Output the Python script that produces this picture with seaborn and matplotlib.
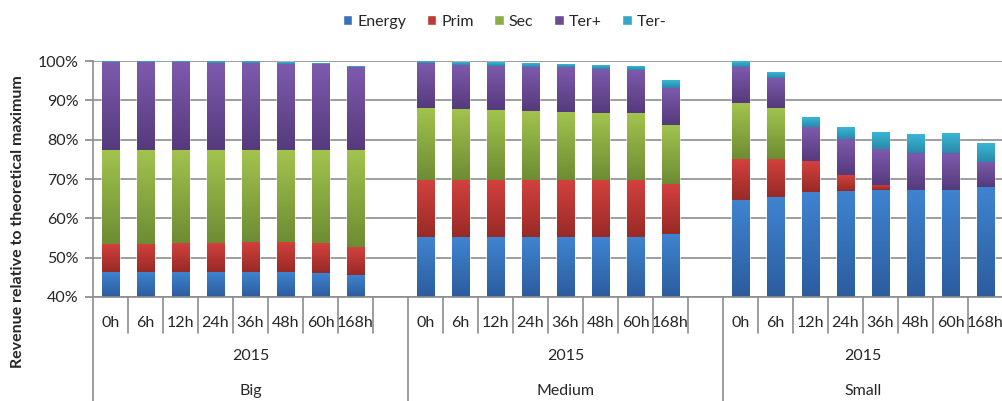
import numpy as np
import pandas as pd
import matplotlib.pyplot as plt
import matplotlib.transforms as mtransforms
from matplotlib.colors import to_rgb
from matplotlib.patches import Patch
import seaborn as sns

# Chart data (percent of theoretical maximum, segment heights)
groups = ['Big', 'Medium', 'Small']
hours = ['0h', '6h', '12h', '24h', '36h', '48h', '60h', '168h']
series = ['Energy', 'Prim', 'Sec', 'Ter+', 'Ter-']
colors = ['#3A72BA', '#BE3A36', '#8AAE45', '#6A4C92', '#34A6C8']
# gradient ends (top light, bottom dark) like the Excel fill
light = ['#3F84D0', '#D4413D', '#A2C44E', '#7E5AAE', '#3AB6D6']
dark = ['#2C5C9E', '#982A27', '#6E8C33', '#553A7C', '#2A8AAA']

energy = [46.4, 46.4, 46.4, 46.4, 46.4, 46.4, 46.2, 45.7,
          55.2, 55.2, 55.2, 55.2, 55.2, 55.2, 55.2, 56.0,
          64.7, 65.4, 66.8, 67.0, 67.3, 67.3, 67.3, 68.0]
prim = [7.2, 7.2, 7.4, 7.4, 7.7, 7.7, 7.6, 7.0,
        14.5, 14.5, 14.5, 14.5, 14.5, 14.5, 14.5, 12.8,
        10.4, 9.7, 7.8, 4.0, 1.3, 0.0, 0.0, 0.0]
sec = [23.9, 23.9, 23.7, 23.6, 23.3, 23.3, 23.6, 24.7,
       18.4, 18.1, 17.9, 17.7, 17.3, 17.0, 17.0, 14.9,
       14.1, 13.0, 0.0, 0.0, 0.0, 0.0, 0.0, 0.0]
ter_plus = [22.3, 22.3, 22.3, 22.0, 22.1, 21.8, 21.8, 21.0,
            11.3, 11.2, 11.2, 11.2, 11.4, 11.3, 11.1, 9.5,
            9.4, 7.7, 8.5, 9.1, 9.1, 9.3, 9.3, 6.4]
ter_minus = [0.2, 0.2, 0.2, 0.3, 0.3, 0.5, 0.2, 0.2,
             0.5, 0.7, 0.9, 0.8, 0.6, 0.8, 1.0, 1.8,
             1.3, 1.5, 2.5, 3.0, 4.3, 4.7, 4.9, 4.7]

# Build table
keys = [f'{g}|{h}' for g in groups for h in hours]
df = pd.DataFrame({'key': keys, 'Energy': energy, 'Prim': prim, 'Sec': sec,
                   'Ter+': ter_plus, 'Ter-': ter_minus})
cum = df[series].cumsum(axis=1)
cum['key'] = df['key']

# slot order with an empty slot after Big and Medium
order = []
for i, g in enumerate(groups):
    order += [f'{g}|{h}' for h in hours]
    if i < len(groups) - 1:
        order.append(f'gap{i}')

sns.set_theme(style='white')
plt.rcParams['font.family'] = ['Lato', 'DejaVu Sans']
fs = 11.5
grey = '#8c8c8c'

fig = plt.figure(figsize=(10.03, 4.01), dpi=100)
ax = fig.add_axes([93 / 1003, 1 - 297 / 401, 910 / 1003, 236 / 401])

# stacked bars: draw cumulative totals, tallest first
bars = {}
for s, c in reversed(list(zip(series, colors))):
    n0 = len(ax.patches)
    sns.barplot(data=cum, x='key', y=s, order=order, color=c, width=0.5,
                errorbar=None, saturation=1, ax=ax, zorder=3)
    bars[s] = ax.patches[n0:]

ymin, ymax = 40, 100

# vertical gradient on the visible part of each segment
for i, s in enumerate(series):
    top_c = np.array(to_rgb(light[i]))
    bot_c = np.array(to_rgb(dark[i]))
    t = np.linspace(0, 1, 64)[:, None]
    grad = (top_c * (1 - t) + bot_c * t)[:, None, :]
    below = {}
    if i > 0:
        below = {round(p.get_x(), 3): p.get_height() for p in bars[series[i - 1]]}
    for p in bars[s]:
        x0, w, top = p.get_x(), p.get_width(), p.get_height()
        bottom = max(below.get(round(x0, 3), ymin), ymin)
        if top - bottom > 0.05:
            ax.imshow(grad, extent=[x0, x0 + w, bottom, top], aspect='auto',
                      interpolation='bilinear', zorder=3.5)

ax.set_ylim(ymin, ymax)
ax.set_xlim(-0.5, len(order) - 0.5)
ax.set_yticks(range(40, 101, 10))
ax.set_yticklabels([f'{v}%' for v in range(40, 101, 10)], fontsize=fs)
ax.yaxis.grid(True, color=grey, lw=1.2)
ax.set_axisbelow(True)
for sp in ['top', 'right']:
    ax.spines[sp].set_visible(False)
for sp in ['left', 'bottom']:
    ax.spines[sp].set_color(grey)
    ax.spines[sp].set_linewidth(1.2)
    ax.spines[sp].set_zorder(5)
ax.tick_params(axis='y', left=True, length=5.5, color=grey, pad=5)
ax.tick_params(axis='x', bottom=False, pad=8)
ax.set_xticks(range(len(order)))
ax.set_xticklabels([k.split('|')[1] if '|' in k else '' for k in order],
                   fontsize=fs)
ax.set_xlabel('')
ax.set_ylabel('')

# multi-level category axis
trans = mtransforms.blended_transform_factory(ax.transData, fig.transFigure)
y_axis = 1 - 297 / 401
y_short = 1 - 333 / 401
gap_edges = [-0.5] + [order.index(f'gap{i}') + 0.5 for i in range(len(groups) - 1)]
for k in range(len(order) - 1):
    x = k + 0.5
    if x in gap_edges:
        continue
    ax.plot([x, x], [y_axis, y_short], transform=trans, color=grey,
            lw=1.2, clip_on=False)
for x in gap_edges:
    ax.plot([x, x], [y_axis, 0], transform=trans, color=grey,
            lw=1.2, clip_on=False)
edges = gap_edges + [len(order) - 0.5]
for i, g in enumerate(groups):
    xc = (edges[i] + edges[i + 1]) / 2
    ax.text(xc, 1 - 356 / 401, '2015', transform=trans, ha='center',
            va='center', fontsize=fs)
    ax.text(xc, 1 - 391 / 401, g, transform=trans, ha='center',
            va='center', fontsize=fs)

fig.text(18 / 1003, 1 - 222 / 401, 'Revenue relative to theoretical maximum',
         rotation=90, ha='center', va='center', fontsize=fs,
         fontweight='bold')

handles = [Patch(facecolor=c, label=s) for s, c in zip(series, colors)]
fig.legend(handles=handles, loc='center', bbox_to_anchor=(0.503, 1 - 22 / 401),
           ncol=5, frameon=False, fontsize=fs, handlelength=0.6,
           handleheight=0.6, handletextpad=0.3, columnspacing=1.3)

fig.savefig('out.png', dpi=100)
